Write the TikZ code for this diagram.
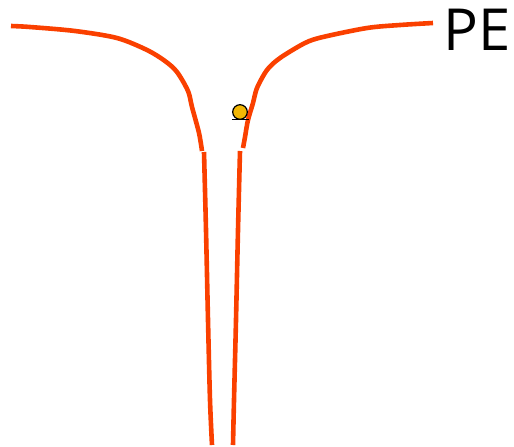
\documentclass[tikz,border=0pt]{standalone}
\usepackage{fontspec}
\setmainfont{Open Sans}
\definecolor{wallred}{RGB}{250,64,0}
\definecolor{ballyellow}{RGB}{242,183,5}
\tikzset{
  wall/.style={line width=4.6pt, wallred},
}
\begin{document}
\begin{tikzpicture}[x=1pt,y=-1pt]
    \useasboundingbox (0,0) rectangle (514,447);

    %left wall (top)
    \draw[wall] plot[smooth, tension=0.5] coordinates {(11,26) (30,27) (75,31) (117,38) (147,50) (165,61) (177,72) (188,91) (192,107) (199,133) (202,151)};
    %left wall (channel)
    \draw[wall] plot[smooth, tension=0.5] coordinates {(204,152) (206,230) (208,320) (210,400) (212,445)};

    %right wall (top)
    \draw[wall] plot[smooth, tension=0.5] coordinates {(433,23) (400,25) (367,28) (323,37) (305,43) (280,58) (267,70) (257,88) (253,103) (248,120) (245,137) (243,148)};
    %right wall (channel)
    \draw[wall] plot[smooth, tension=0.5] coordinates {(240,151) (238,230) (236,320) (234,400) (233,445)};

    %ball
    \filldraw[fill=ballyellow, draw=black, line width=1.2pt] (240,112) circle (7.3);
    \draw[black, line width=1.3pt] (232,119.6) -- (249,119.6);

    %label
    \node[anchor=base west, inner sep=0pt, font=\fontsize{58}{64}\selectfont] (pe) at (443,50) {PE};
\end{tikzpicture}
\end{document}
